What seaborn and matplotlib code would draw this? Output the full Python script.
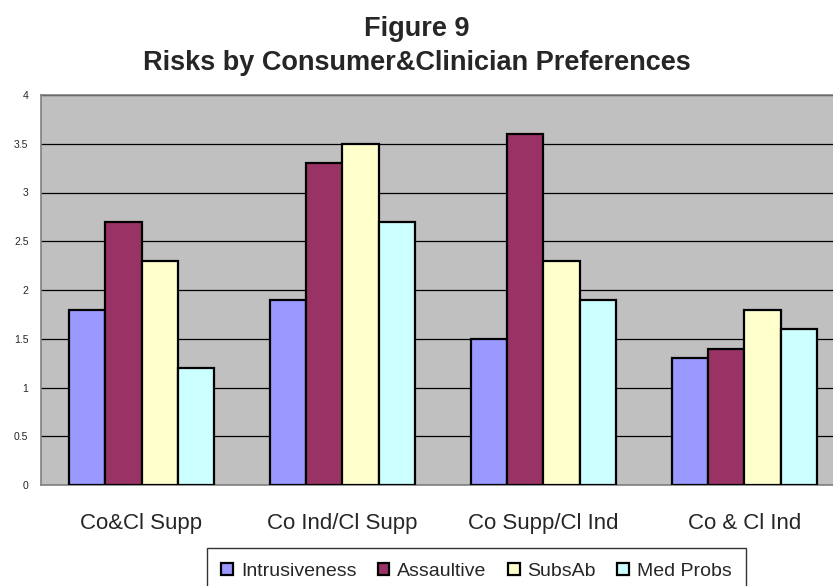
import matplotlib
matplotlib.use("Agg")
import matplotlib.pyplot as plt
from matplotlib.patches import Patch
import seaborn as sns
import pandas as pd

# Chart data
groups = ["Co&Cl Supp", "Co Ind/Cl Supp", "Co Supp/Cl Ind", "Co & Cl Ind"]
series = ["Intrusiveness", "Assaultive", "SubsAb", "Med Probs"]
intrusiveness = [1.8, 1.9, 1.5, 1.3]
assaultive = [2.7, 3.3, 3.6, 1.4]
subsab = [2.3, 3.5, 2.3, 1.8]
med_probs = [1.2, 2.7, 1.9, 1.6]
y_ticks = [0, 0.5, 1, 1.5, 2, 2.5, 3, 3.5, 4]
y_tick_labels = ["0", "0.5", "1", "1.5", "2", "2.5", "3", "3.5", "4"]

colors = ["#9999FF", "#993366", "#FFFFCC", "#CCFFFF"]

rows = []
for name, vals in zip(series, [intrusiveness, assaultive, subsab, med_probs]):
    for g, v in zip(groups, vals):
        rows.append({"Group": g, "Series": name, "Value": v})
df = pd.DataFrame(rows)

sns.set_style("white")
plt.rcParams["font.family"] = ["Liberation Sans", "DejaVu Sans"]

fig = plt.figure(figsize=(8.33, 5.86), dpi=100)
ax = fig.add_axes([41 / 833, 1 - 485 / 586, 804 / 833, 390 / 586])
ax.set_facecolor("#C0C0C0")

sns.barplot(data=df, x="Group", y="Value", hue="Series", order=groups,
            hue_order=series, palette=colors, width=0.72, gap=0,
            edgecolor="black", linewidth=1.6, saturation=1, ax=ax,
            legend=False, zorder=3)

ax.set_ylim(0, 4)
ax.set_xlim(-0.5, 3.5)
ax.set_yticks(y_ticks)
ax.set_yticklabels(y_tick_labels)
ax.yaxis.grid(True, color="black", linewidth=0.9, zorder=1)
ax.set_axisbelow(True)
ax.set_xlabel("")
ax.set_ylabel("")

# category boundary ticks on the x axis
ax.set_xticks([-0.5, 0.5, 1.5, 2.5, 3.5], minor=True)
ax.tick_params(axis="x", which="major", length=0, pad=20, labelsize=16)
ax.tick_params(axis="x", which="minor", length=6, width=1, color="#606060",
               direction="out")
ax.tick_params(axis="y", which="major", length=4, width=1, color="#606060",
               direction="out", pad=5, labelsize=7.5)

for side in ["left", "bottom", "top", "right"]:
    ax.spines[side].set_color("#808080")
    ax.spines[side].set_linewidth(1.2)

fig.text(0.5, 1 - 36 / 586, "Figure 9", ha="center", va="baseline",
         fontsize=19.5, fontweight="bold")
fig.text(0.5, 1 - 70 / 586, "Risks by Consumer&Clinician Preferences",
         ha="center", va="baseline", fontsize=19.5, fontweight="bold")

handles = [Patch(facecolor=c, edgecolor="black", linewidth=1.6) for c in colors]
leg = fig.legend(handles, series, loc="upper center", ncol=4,
                 bbox_to_anchor=(476.5 / 833, 1 - 548 / 586),
                 fontsize=14, frameon=True, fancybox=False,
                 handlelength=0.6, handleheight=0.6, handletextpad=0.4,
                 columnspacing=1.1, borderpad=0.75, borderaxespad=0)
leg.get_frame().set_edgecolor("black")
leg.get_frame().set_linewidth(1.0)

fig.savefig("out.png", dpi=100)
